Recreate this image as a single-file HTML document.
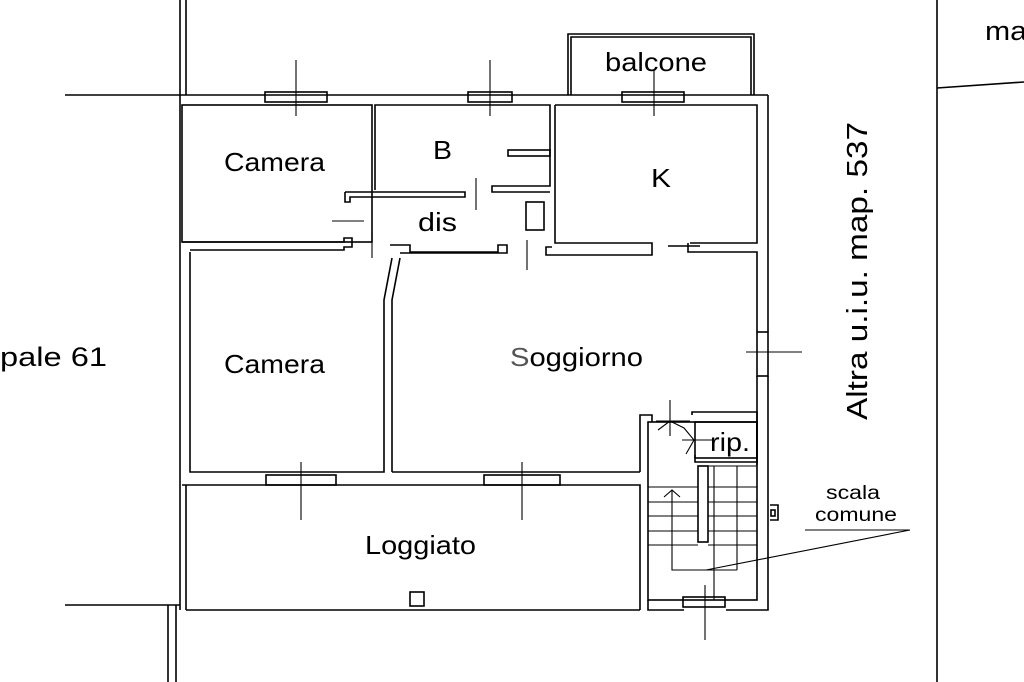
<!DOCTYPE html>
<html><head><style>
html,body{margin:0;padding:0;background:#fff;}
svg{display:block;font-family:"Liberation Sans",sans-serif;}
</style></head><body>
<svg width="1024" height="682" viewBox="0 0 1024 682" xmlns="http://www.w3.org/2000/svg">
<g fill="none" stroke="#000" stroke-width="1.6">
<line x1="180" y1="0" x2="180" y2="610"/>
<line x1="186" y1="0" x2="186" y2="95"/>
<line x1="168" y1="605" x2="168" y2="682"/>
<line x1="176" y1="605" x2="176" y2="682"/>
<line x1="65" y1="95" x2="180" y2="95"/>
<line x1="65" y1="605" x2="180" y2="605"/>
<line x1="937" y1="0" x2="937" y2="682"/>
<line x1="937" y1="88" x2="1024" y2="82"/>
<polyline points="568,95 568,34 754,34 754,95"/>
<polyline points="571,95 571,37 751,37 751,95"/>
<line x1="180" y1="95" x2="768" y2="95"/>
<line x1="768" y1="95" x2="768" y2="332"/>
<line x1="768" y1="376" x2="768" y2="600"/>
<polyline points="770,505 778,505 778,520 770,520"/>
<rect x="771" y="510" width="4" height="6"/>
<line x1="186" y1="610" x2="640" y2="610"/>
<polyline points="648,600 648,610 684,610"/>
<polyline points="726,610 768,610 768,600"/>
<rect x="410" y="592" width="14" height="14"/>
<rect x="265" y="92" width="62" height="10"/>
<rect x="468" y="92" width="44" height="10"/>
<rect x="622" y="92" width="62" height="10"/>
<rect x="182" y="105" width="190" height="137"/>
<polyline points="375,190 375,105 550,105 550,186 492,186 492,192 550,192"/>
<polyline points="345,192 465,192 465,197 350,197 350,202 345,202 345,192"/>
<rect x="508" y="150" width="42" height="6"/>
<rect x="526" y="202" width="18" height="28"/>
<polyline points="555,105 757,105 757,243 690,243"/>
<polyline points="555,105 555,243 652,243 652,255 546,255 546,247 552,247"/>
<polyline points="688,243 688,252 757,252 757,332"/>
<line x1="668" y1="246" x2="700" y2="246"/>
<polyline points="182,242 344,242 344,238 352,238 352,247 344,247 344,250 190,250"/>
<polyline points="190,252 190,472 384,472 384,300 392,258"/>
<polyline points="392,472 392,300 400,258"/>
<polyline points="390,245 410,245 410,252 498,252 498,245 507,245 507,253 400,253"/>
<line x1="392" y1="472" x2="640" y2="472"/>
<polyline points="757,376 757,465"/>
<rect x="757" y="332" width="11" height="44"/>
<polyline points="640,472 640,415 652,415 652,422"/>
<polyline points="692,415 692,412 757,412 757,462 695,462 695,455"/>
<rect x="695" y="422" width="62" height="36"/>
<polyline points="182,485 640,485 640,610"/>
<line x1="186" y1="485" x2="186" y2="610"/>
<rect x="266" y="475" width="70" height="10"/>
<rect x="484" y="475" width="76" height="10"/>
<rect x="648" y="422" width="109" height="178"/>
<rect x="698" y="466" width="10" height="76"/>
<g stroke-width="1.1">
<line x1="648" y1="487" x2="698" y2="487"/><line x1="648" y1="502" x2="698" y2="502"/>
<line x1="648" y1="516" x2="698" y2="516"/><line x1="648" y1="531" x2="698" y2="531"/>
<line x1="648" y1="545" x2="698" y2="545"/>
<line x1="708" y1="466" x2="757" y2="466"/><line x1="708" y1="487" x2="757" y2="487"/>
<line x1="708" y1="502" x2="757" y2="502"/><line x1="708" y1="516" x2="757" y2="516"/>
<line x1="708" y1="531" x2="757" y2="531"/><line x1="708" y1="545" x2="757" y2="545"/>
<line x1="714" y1="466" x2="714" y2="600"/><line x1="737" y1="466" x2="737" y2="570"/>
<polyline points="672,490 672,570 737,570"/>
<polyline points="664,497 672,490 680,497"/>
<line x1="706" y1="570" x2="910" y2="530"/>
<line x1="805" y1="530" x2="910" y2="530"/>
</g>
<rect x="683" y="597" width="42" height="10"/>
<g stroke-width="1.1">
<line x1="296" y1="60" x2="296" y2="116"/><line x1="490" y1="60" x2="490" y2="116"/>
<line x1="654" y1="70" x2="654" y2="116"/>
<line x1="476" y1="178" x2="476" y2="210"/><line x1="332" y1="221" x2="364" y2="221"/>
<line x1="372" y1="232" x2="372" y2="258"/><line x1="527" y1="240" x2="527" y2="270"/>
<line x1="301" y1="462" x2="301" y2="520"/><line x1="522" y1="462" x2="522" y2="520"/>
<line x1="746" y1="352" x2="802" y2="352"/>
<line x1="705" y1="585" x2="705" y2="640"/>
<line x1="670" y1="400" x2="670" y2="436"/><line x1="656" y1="421" x2="690" y2="421"/>
<line x1="682" y1="440" x2="712" y2="440"/>
<polyline points="658,430 670,421 684,428 694,440 686,454"/>
</g>
</g>
<g font-size="26" fill="#000" lengthAdjust="spacingAndGlyphs">
<text x="224" y="171" textLength="101" lengthAdjust="spacingAndGlyphs">Camera</text>
<text x="433" y="159" textLength="19" lengthAdjust="spacingAndGlyphs">B</text>
<text x="418" y="231" textLength="39" lengthAdjust="spacingAndGlyphs">dis</text>
<text x="651" y="187" textLength="20" lengthAdjust="spacingAndGlyphs">K</text>
<text x="605" y="71" textLength="102" lengthAdjust="spacingAndGlyphs">balcone</text>
<text x="224" y="373" textLength="101" lengthAdjust="spacingAndGlyphs">Camera</text>
<text x="510" y="366" textLength="133" lengthAdjust="spacingAndGlyphs"><tspan fill="#555">S</tspan>oggiorno</text>
<text x="365" y="554" textLength="111" lengthAdjust="spacingAndGlyphs">Loggiato</text>
<text x="710" y="451" textLength="40" lengthAdjust="spacingAndGlyphs">rip.</text>
<text x="0" y="366" font-size="27" textLength="107" lengthAdjust="spacingAndGlyphs">pale 61</text>
<text x="985" y="40" font-size="27" textLength="42" lengthAdjust="spacingAndGlyphs">ma</text>
<text transform="translate(867,420) rotate(-90)" font-size="29" textLength="298" lengthAdjust="spacingAndGlyphs">Altra u.i.u. map. 537</text>
<text x="826" y="499" font-size="19" textLength="54" lengthAdjust="spacingAndGlyphs">scala</text>
<text x="815" y="521" font-size="19" textLength="82" lengthAdjust="spacingAndGlyphs">comune</text>
</g>
</svg>
</body></html>
